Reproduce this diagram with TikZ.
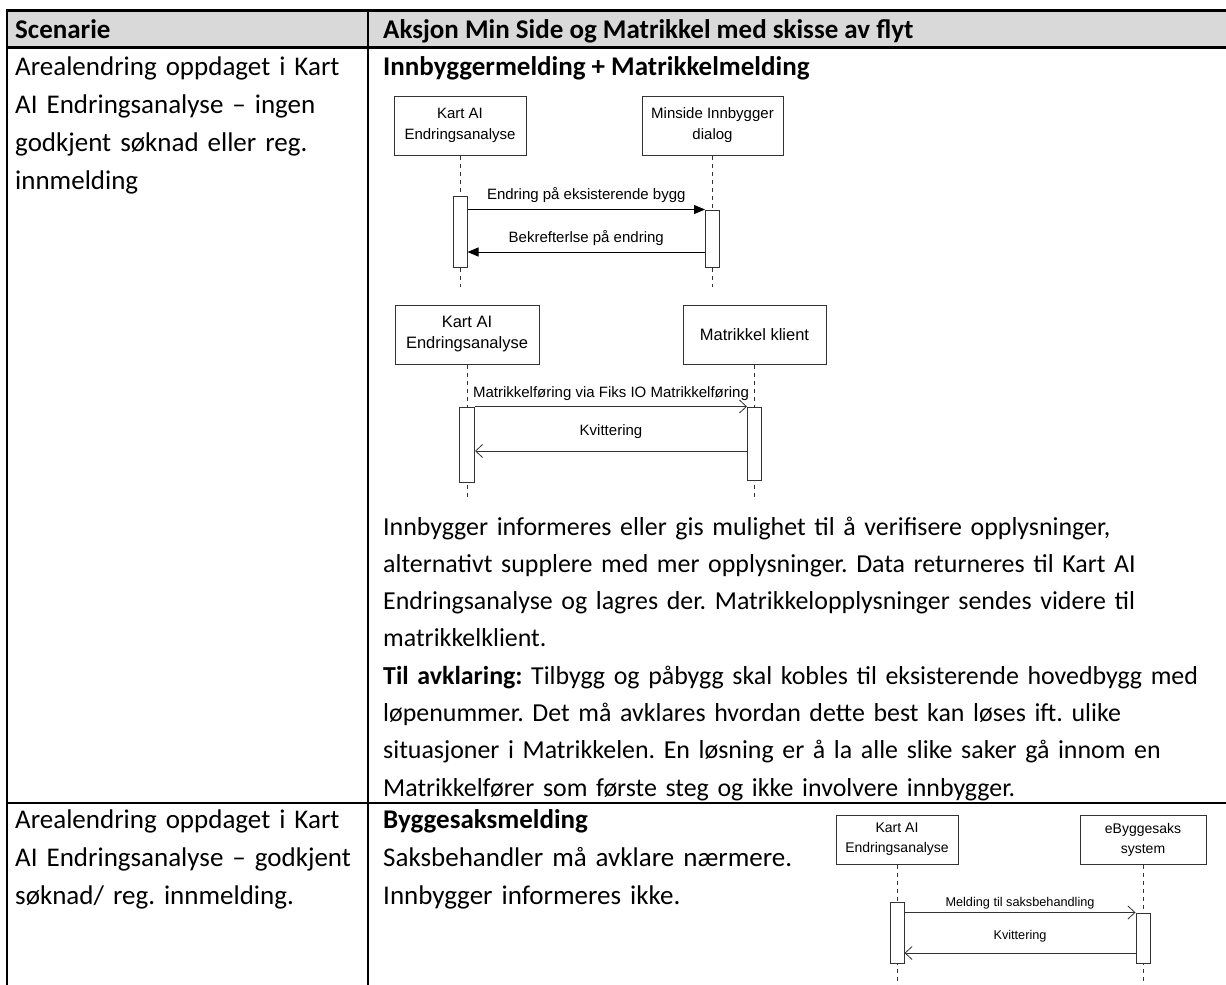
\documentclass[tikz,border=0pt]{standalone}
\usepackage{fontspec}
\setmainfont{Carlito}
\newfontfamily\arial{Liberation Sans}
\usetikzlibrary{arrows.meta}
\definecolor{headgrey}{HTML}{D9D9D9}
\definecolor{umlline}{HTML}{333333}
\begin{document}
\frenchspacing
\begin{tikzpicture}[x=1pt,y=-1pt,
  body/.style={font=\frenchspacing\fontsize{27}{38}\selectfont, anchor=base west, inner sep=0pt, align=left},
  rule/.style={line width=#1, black},
  actor/.style={draw=umlline, line width=1pt, fill=white, inner sep=0pt, align=center},
  actbar/.style={draw=umlline, line width=1pt, fill=white, inner sep=0pt, minimum width=14pt},
  life/.style={draw=umlline, line width=1pt, dash pattern=on 4pt off 4pt},
  msgsolid/.style={draw=black, line width=1pt, -{Triangle[length=11pt,width=9pt]}},
  msgopen/.style={draw=umlline, line width=1pt, -{Straight Barb[length=7pt,width=13pt,line width=0.8pt]}},
  msglabel/.style={font=\arial\fontsize{#1}{#1}\selectfont, inner sep=0pt}
]
\useasboundingbox[fill=white] (0,0) rectangle (1226,985);

% table frame
\fill[headgrey] (7,10) rectangle (1226,47);
\draw[rule=2pt] (7,10) -- (7,985);
\draw[rule=2pt] (368,10) -- (368,985);
\draw[rule=3pt] (6,10) -- (1226,10);
\draw[rule=3pt] (6,47) -- (1226,47);
\draw[rule=2.4pt] (6,803) -- (1226,803);

% header row
\node[body, font=\bfseries\fontsize{27}{38}\selectfont] (h1) at (15,38) {Scenarie};
\node[body, font=\bfseries\fontsize{27}{38}\selectfont] (h2) at (383,38) {Aksjon Min Side og Matrikkel med skisse av flyt};

% first scenario
\node[body, text width=350pt] (s1) at (15,75) {Arealendring oppdaget i Kart\\AI Endringsanalyse – ingen\\godkjent søknad eller reg.\\innmelding};
\node[body, font=\bfseries\fontsize{27}{38}\selectfont] (t1) at (383,75) {Innbyggermelding + Matrikkelmelding};

% sequence: citizen dialogue
\node[actor, minimum width=132pt, minimum height=59pt, font=\arial\fontsize{15}{21}\selectfont] (ka1) at (460,125.5) {Kart AI\\Endringsanalyse};
\node[actor, minimum width=141pt, minimum height=59pt, font=\arial\fontsize{15}{21}\selectfont] (ms) at (712.5,125.5) {Minside Innbygger\\dialog};
\coordinate (ka1end) at (460,287);
\coordinate (msend) at (712.5,287);
\draw[life] (ka1.south) -- (ka1end);
\draw[life] (ms.south) -- (msend);
\node[actbar, minimum height=71pt] (a1) at (460,231.5) {};
\node[actbar, minimum height=57pt] (a2) at (712.5,238.5) {};
\coordinate (r1) at (0,252);
\draw[msgsolid] (a1.east |- a2.north) -- node[msglabel=15, above=6pt] {Endring på eksisterende bygg} (a2.north west);
\draw[msgsolid] (a2.west |- r1) -- node[msglabel=15, above=6pt] {Bekrefterlse på endring} (a1.east |- r1);

% sequence: cadastre client
\node[actor, minimum width=144pt, minimum height=59pt, font=\arial\fontsize{16.5}{21}\selectfont] (ka2) at (467,334.5) {Kart AI\\Endringsanalyse};
\node[actor, minimum width=143pt, minimum height=59pt, font=\arial\fontsize{16.5}{21}\selectfont] (mk) at (754.5,334.5) {Matrikkel klient};
\coordinate (ka2end) at (467,499);
\coordinate (mkend) at (754.5,499);
\draw[life] (ka2.south) -- (ka2end);
\draw[life] (mk.south) -- (mkend);
\node[actbar, minimum width=15pt, minimum height=75pt] (b1) at (467,444.5) {};
\node[actbar, minimum height=73pt] (b2) at (754.5,443.5) {};
\coordinate (r2) at (0,451);
\draw[msgopen] (b1.north east) -- node[msglabel=15, above=5pt] {Matrikkelføring via Fiks IO Matrikkelføring} (b2.north west);
\draw[msgopen] (b2.west |- r2) -- node[msglabel=15, above=12pt] {Kvittering} (b1.east |- r2);

% explanation
\node[body, text width=840pt, font=\frenchspacing\fontsize{25.9}{37.3}\selectfont] (p1) at (383,535) {Innbygger informeres eller gis mulighet til å verifisere opplysninger,\\alternativt supplere med mer opplysninger. Data returneres til Kart AI\\Endringsanalyse og lagres der. Matrikkelopplysninger sendes videre til\\matrikkelklient.\\\textbf{Til avklaring:} Tilbygg og påbygg skal kobles til eksisterende hovedbygg med\\løpenummer. Det må avklares hvordan dette best kan løses ift. ulike\\situasjoner i Matrikkelen. En løsning er å la alle slike saker gå innom en\\Matrikkelfører som første steg og ikke involvere innbygger.};

% second scenario
\node[body, text width=350pt] (s2) at (15,828) {Arealendring oppdaget i Kart\\AI Endringsanalyse – godkjent\\søknad/ reg. innmelding.};
\node[body, text width=440pt] (t2) at (383,828) {\textbf{Byggesaksmelding}\\Saksbehandler må avklare nærmere.\\Innbygger informeres ikke.};

% sequence: building case system
\node[actor, minimum width=122pt, minimum height=49pt, font=\arial\fontsize{14}{20}\selectfont] (ka3) at (897,839.5) {Kart AI\\Endringsanalyse};
\node[actor, minimum width=126pt, minimum height=49pt, font=\arial\fontsize{14}{20}\selectfont] (eb) at (1143,839.5) {eByggesaks\\system};
\coordinate (ka3end) at (897,985);
\coordinate (ebend) at (1143,985);
\draw[life] (ka3.south) -- (ka3end);
\draw[life] (eb.south) -- (ebend);
\node[actbar, minimum height=61pt] (c1) at (897,932.5) {};
\node[actbar, minimum height=50pt] (c2) at (1143,938) {};
\coordinate (r3) at (0,953);
\draw[msgopen] (c1.east |- c2.north) -- node[msglabel=12.7, above=3pt] {Melding til saksbehandling} (c2.north west);
\draw[msgopen] (c2.west |- r3) -- node[msglabel=12.7, above=10pt] {Kvittering} (c1.east |- r3);
\end{tikzpicture}
\end{document}
